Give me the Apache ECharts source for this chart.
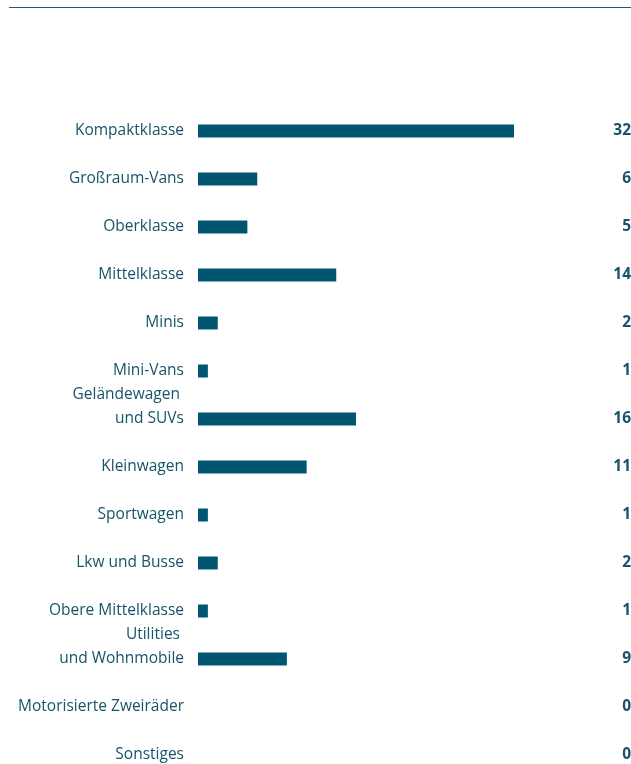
<!DOCTYPE html>
<html><head><meta charset="utf-8">
<script src="https://cdn.jsdelivr.net/npm/echarts@6/dist/echarts.min.js"></script>
<style>html,body{margin:0;padding:0;background:#fff}#c{width:631px;height:764px}</style>
</head><body><div id="c"></div>
<script>
const categories = ["Kompaktklasse","Großraum-Vans","Oberklasse","Mittelklasse","Minis","Mini-Vans","Geländewagen \nund SUVs","Kleinwagen","Sportwagen","Lkw und Busse","Obere Mittelklasse","Utilities \nund Wohnmobile","Motorisierte Zweiräder","Sonstiges"];
const values = [32,6,5,14,2,1,16,11,1,2,1,9,0,0];

const chart = echarts.init(document.getElementById('c'), null, {renderer:'canvas'});
const txt = '#165469';
const fam = 'Open Sans';
chart.setOption({
  animation:false,
  grid:{left:198, right:117, top:107, height:672, outerBoundsMode:'none', containLabel:false},
  xAxis:{type:'value', min:0, max:32, show:false},
  yAxis:[{
    type:'category', data:categories, inverse:true,
    axisLine:{show:false}, axisTick:{show:false},
    axisLabel:{color:txt, fontSize:15.5, fontFamily:fam, margin:14, align:'right', lineHeight:24,
      formatter: v => v.indexOf('\n')>=0 ? v + '\n ' : v}
  },{
    type:'category', data:categories, inverse:true, position:'right',
    axisLine:{show:false}, axisTick:{show:false},
    axisLabel:{color:txt, fontSize:15.5, fontWeight:'bold', fontFamily:fam, margin:117, align:'right',
      formatter:(v,i)=> String(values[i])}
  }],
  series:[{type:'bar', data:values, barWidth:13, itemStyle:{color:'#005670'}}],
  graphic:[{type:'line', shape:{x1:9,y1:7.5,x2:631,y2:7.5}, style:{stroke:'#1d5d70', lineWidth:1}}]
});
</script></body></html>
